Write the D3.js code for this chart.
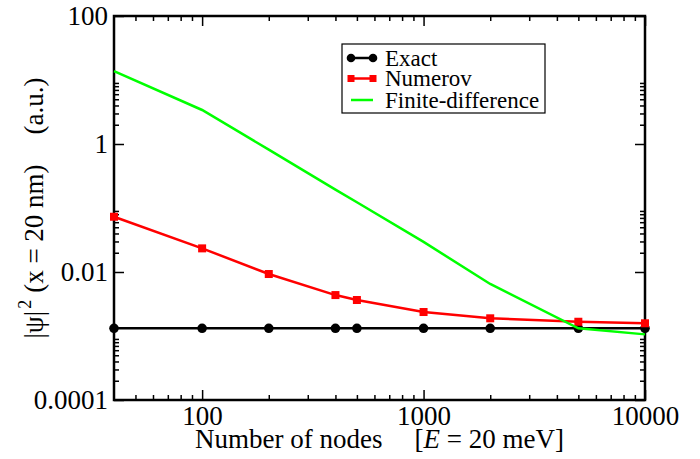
<!DOCTYPE html>
<html><head><meta charset="utf-8">
<script src="https://cdn.jsdelivr.net/npm/d3@7"></script>
<style>
html,body{margin:0;padding:0;background:#fff;}
svg{display:block;}
text{font-family:"Liberation Serif","Times New Roman",serif;fill:#000;}
</style></head>
<body>
<svg id="chart" width="700" height="459"></svg>
<script>
// ---- data ----
const nodes      = [40, 100, 200, 400, 500, 1000, 2000, 5000, 10000];
const exact      = [0.00132, 0.00132, 0.00132, 0.00132, 0.00132, 0.00132, 0.00132, 0.00132, 0.00132];
const numerov    = [0.073, 0.0234, 0.0093, 0.00436, 0.00365, 0.00237, 0.00189, 0.00167, 0.00158];
const finiteDiff = [13.8, 3.4, 0.815, 0.194, 0.123, 0.0295, 0.0065, 0.00132, 0.00106];
const xMajorTicks = [100, 1000, 10000];
const yMajorTicks = [0.0001, 0.01, 1, 100];
const yTickLabels = ["0.0001", "0.01", "1", "100"];
const seriesNames = ["Exact", "Numerov", "Finite-difference"];
const seriesColors = ["#000000", "#ff0000", "#00ff00"];

// ---- layout ----
const L = 114, R = 645, T = 16, B = 400;
const svg = d3.select("#chart");
const x = d3.scaleLog().domain([40, 10000]).range([L, R]);
const y = d3.scaleLog().domain([0.0001, 100]).range([B, T]);

const xMinor = [];
[10, 100, 1000].forEach(d => { for (let k = 2; k <= 9; k++) { const v = d * k; if (v > 40 && v < 10000 && !xMajorTicks.includes(v)) xMinor.push(v); } });
const yMinor = [];
[0.0001, 0.01, 1].forEach(d => { for (let k = 2; k <= 9; k++) yMinor.push(d * k); });

const fontSize = 27;
function styleAxis(g) {
  g.select(".domain").remove();
  g.selectAll(".tick line").attr("stroke", "#000").attr("stroke-width", 1.5);
  g.selectAll(".tick text").attr("font-size", fontSize).attr("font-family", '"Liberation Serif","Times New Roman",serif').attr("fill", "#000");
}

// bottom axis
svg.append("g").attr("transform", `translate(0,${B})`)
  .call(d3.axisBottom(x).tickValues(xMajorTicks).tickFormat(d3.format("d")).tickSizeInner(-10).tickSizeOuter(0).tickPadding(6))
  .call(styleAxis);
svg.append("g").attr("transform", `translate(0,${B})`)
  .call(d3.axisBottom(x).tickValues(xMinor).tickFormat("").tickSizeInner(-5).tickSizeOuter(0))
  .call(styleAxis);
// top axis
svg.append("g").attr("transform", `translate(0,${T})`)
  .call(d3.axisTop(x).tickValues(xMajorTicks).tickFormat("").tickSizeInner(-10).tickSizeOuter(0))
  .call(styleAxis);
svg.append("g").attr("transform", `translate(0,${T})`)
  .call(d3.axisTop(x).tickValues(xMinor).tickFormat("").tickSizeInner(-5).tickSizeOuter(0))
  .call(styleAxis);
// left axis
svg.append("g").attr("transform", `translate(${L},0)`)
  .call(d3.axisLeft(y).tickValues(yMajorTicks).tickFormat((d, i) => yTickLabels[i]).tickSizeInner(-10).tickSizeOuter(0).tickPadding(6))
  .call(styleAxis);
svg.append("g").attr("transform", `translate(${L},0)`)
  .call(d3.axisLeft(y).tickValues(yMinor).tickFormat("").tickSizeInner(-5).tickSizeOuter(0))
  .call(styleAxis);
// right axis
svg.append("g").attr("transform", `translate(${R},0)`)
  .call(d3.axisRight(y).tickValues(yMajorTicks).tickFormat("").tickSizeInner(-10).tickSizeOuter(0))
  .call(styleAxis);
svg.append("g").attr("transform", `translate(${R},0)`)
  .call(d3.axisRight(y).tickValues(yMinor).tickFormat("").tickSizeInner(-5).tickSizeOuter(0))
  .call(styleAxis);

// frame
svg.append("rect").attr("x", L).attr("y", T).attr("width", R - L).attr("height", B - T)
  .attr("fill", "none").attr("stroke", "#000").attr("stroke-width", 2.5);

// ---- series ----
const line = d3.line().x(d => x(d[0])).y(d => y(d[1]));
const series = [exact, numerov, finiteDiff];
series.forEach((vals, si) => {
  const pts = nodes.map((n, i) => [n, vals[i]]);
  svg.append("path").datum(pts).attr("d", line)
    .attr("fill", "none").attr("stroke", seriesColors[si]).attr("stroke-width", 2.5);
  if (si === 0) {
    svg.append("g").selectAll("circle").data(pts).join("circle")
      .attr("cx", d => x(d[0])).attr("cy", d => y(d[1])).attr("r", 4.8).attr("fill", "#000");
  } else if (si === 1) {
    svg.append("g").selectAll("rect").data(pts).join("rect")
      .attr("x", d => x(d[0]) - 4).attr("y", d => y(d[1]) - 4).attr("width", 8).attr("height", 8).attr("fill", "#ff0000");
  }
});

// ---- legend ----
const lg = svg.append("g");
lg.append("rect").attr("x", 342).attr("y", 44).attr("width", 203).attr("height", 69)
  .attr("fill", "#fff").attr("stroke", "#000").attr("stroke-width", 1.2);
const ly = [58, 78.5, 100];
seriesNames.forEach((name, i) => {
  lg.append("line").attr("x1", 351).attr("x2", 373).attr("y1", ly[i]).attr("y2", ly[i])
    .attr("stroke", seriesColors[i]).attr("stroke-width", 2.5);
  if (i === 0) {
    [351, 373].forEach(cx => lg.append("circle").attr("cx", cx).attr("cy", ly[i]).attr("r", 4.3).attr("fill", "#000"));
  } else if (i === 1) {
    [351, 373].forEach(cx => lg.append("rect").attr("x", cx - 3.5).attr("y", ly[i] - 3.5).attr("width", 7).attr("height", 7).attr("fill", "#ff0000"));
  }
  lg.append("text").attr("x", 385).attr("y", ly[i] + 7.5).attr("font-size", 23).text(name);
});

// ---- axis titles ----
const xt = svg.append("text").attr("x", (L + R) / 2).attr("y", 448).attr("text-anchor", "middle").attr("font-size", fontSize);
xt.append("tspan").text("Number of nodes");
xt.append("tspan").attr("dx", 32).text("[");
xt.append("tspan").attr("font-style", "italic").text("E");
xt.append("tspan").text(" = 20 meV]");

const yt = svg.append("text").attr("transform", `translate(43,${(T + B) / 2}) rotate(-90)`)
  .attr("text-anchor", "middle").attr("font-size", fontSize);
yt.append("tspan").text("|ψ|");
yt.append("tspan").attr("font-size", 18).attr("dy", -12).attr("dx", 2).text("2");
yt.append("tspan").attr("dy", 12).attr("dx", 7).text("(x = 20 nm)");
yt.append("tspan").attr("dx", 30).text("(a.u.)");
</script>
</body></html>
